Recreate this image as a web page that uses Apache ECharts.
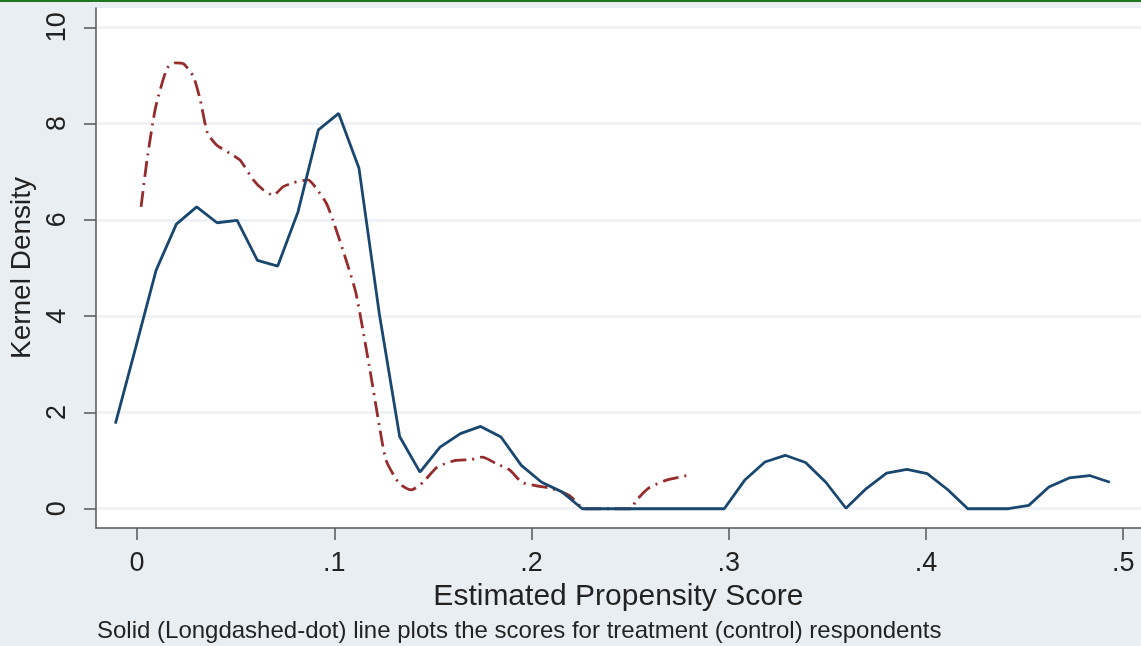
<!DOCTYPE html>
<html>
<head>
<meta charset="utf-8">
<script src="https://cdn.jsdelivr.net/npm/echarts@6/dist/echarts.min.js"></script>
<style>
html, body { margin: 0; padding: 0; background: #e9eef3; }
#chart { width: 1141px; height: 646px; }
</style>
</head>
<body>
<div id="chart"></div>
<script>
// treatment (solid) – kernel density points
var treatX = [-0.0110, -0.0007, 0.0096, 0.0199, 0.0302, 0.0405, 0.0507, 0.0610, 0.0713, 0.0816,
	0.0919, 0.1022, 0.1125, 0.1228, 0.1331, 0.1434, 0.1536, 0.1639, 0.1742, 0.1845,
	0.1948, 0.2051, 0.2154, 0.2257, 0.2360, 0.2463, 0.2565, 0.2668, 0.2771, 0.2874,
	0.2977, 0.3080, 0.3183, 0.3286, 0.3389, 0.3492, 0.3594, 0.3697, 0.3800, 0.3903,
	0.4006, 0.4109, 0.4212, 0.4315, 0.4418, 0.4521, 0.4623, 0.4726, 0.4829, 0.4932];
var treatY = [1.77, 3.35, 4.95, 5.91, 6.27, 5.94, 5.99, 5.16, 5.04, 6.17,
	7.87, 8.21, 7.07, 4.05, 1.50, 0.76, 1.28, 1.56, 1.71, 1.49,
	0.90, 0.55, 0.35, 0, 0, 0, 0, 0, 0, 0,
	0, 0.59, 0.97, 1.11, 0.96, 0.55, 0.01, 0.42, 0.74, 0.82,
	0.73, 0.40, 0, 0, 0, 0.07, 0.45, 0.64, 0.69, 0.55];

// control (longdash-dot)
var ctrlX = [0.0020, 0.0050, 0.0093, 0.0152, 0.0194, 0.0236, 0.0286, 0.0320, 0.0357, 0.0404,
	0.0471, 0.0522, 0.0589, 0.0640, 0.0690, 0.0741, 0.0791, 0.0867, 0.0909, 0.0960,
	0.0993, 0.1060, 0.1110, 0.1178, 0.1229, 0.1263, 0.1330, 0.1390, 0.1450, 0.1520,
	0.1610, 0.1690, 0.1750, 0.1820, 0.1890, 0.1950, 0.2020, 0.2100, 0.2190, 0.2270,
	0.2420, 0.2510, 0.2525, 0.2590, 0.2680, 0.2790];
var ctrlY = [6.27, 7.24, 8.32, 9.15, 9.26, 9.24, 8.97, 8.49, 7.80, 7.55,
	7.38, 7.24, 6.83, 6.62, 6.51, 6.69, 6.77, 6.83, 6.65, 6.34,
	5.99, 5.16, 4.47, 2.94, 1.70, 1.00, 0.52, 0.39, 0.55, 0.86,
	1.00, 1.02, 1.07, 0.94, 0.80, 0.55, 0.48, 0.42, 0.28, 0,
	0, 0, 0.14, 0.42, 0.59, 0.69];

var xTicks = [0, 0.1, 0.2, 0.3, 0.4, 0.5];
var yTicks = [0, 2, 4, 6, 8, 10];

function pairs(xs, ys) {
	return xs.map(function (x, i) { return [x, ys[i]]; });
}

var myChart = echarts.init(document.getElementById('chart'));
var font = 'Liberation Sans, Arial, sans-serif';

myChart.setOption({
	backgroundColor: '#e9eef3',
	animation: false,
	grid: {
		left: 92,
		top: 8,
		right: 0,
		bottom: 118,
		show: true,
		backgroundColor: '#ffffff',
		borderWidth: 0
	},
	xAxis: {
		type: 'value',
		min: -0.0209,
		max: 0.509,
		name: 'Estimated Propensity Score',
		nameLocation: 'middle',
		nameGap: 42,
		nameTextStyle: { fontFamily: font, fontSize: 30, color: '#222' },
		axisLine: { onZero: false, lineStyle: { color: '#555', width: 1.5 } },
		axisTick: { customValues: xTicks, length: 12, lineStyle: { color: '#555', width: 1.5 } },
		axisLabel: {
			customValues: xTicks,
			margin: 22,
			fontFamily: font,
			fontSize: 27,
			color: '#222',
			formatter: function (v) {
				return v === 0 ? '0' : String(+v.toFixed(1)).replace(/^0/, '');
			}
		},
		splitLine: { show: false }
	},
	yAxis: {
		type: 'value',
		min: -0.4,
		max: 10.4,
		name: 'Kernel Density',
		nameLocation: 'middle',
		nameGap: 55,
		nameTextStyle: { fontFamily: font, fontSize: 28, color: '#222' },
		axisLine: { show: true, onZero: false, lineStyle: { color: '#555', width: 1.5 } },
		axisTick: { show: true, customValues: yTicks, length: 12, lineStyle: { color: '#555', width: 1.5 } },
		axisLabel: {
			customValues: yTicks,
			rotate: 90,
			margin: 25,
			fontFamily: font,
			fontSize: 27,
			color: '#222'
		},
		splitLine: { show: true, lineStyle: { color: '#eceff3', width: 2.5 } }
	},
	series: [
		{
			name: 'treatment',
			type: 'line',
			data: pairs(treatX, treatY),
			showSymbol: false,
			lineStyle: { color: '#1a476f', width: 2.8 },
			z: 3
		},
		{
			name: 'control',
			type: 'line',
			data: pairs(ctrlX, ctrlY),
			showSymbol: false,
			smooth: 0.2,
			lineStyle: { color: '#962c2c', width: 2.8, type: [16, 6, 2, 6] },
			z: 2
		}
	],
	graphic: [
		{
			type: 'rect',
			shape: { x: 0, y: 0, width: 1141, height: 2 },
			style: { fill: '#1f7a1f' }
		},
		{
			type: 'text',
			x: 97,
			y: 631,
			style: {
				text: 'Solid (Longdashed-dot) line plots the scores for treatment (control) respondents',
				font: '24px Liberation Sans, Arial, sans-serif',
				fill: '#222',
				verticalAlign: 'middle'
			}
		}
	]
});

window.addEventListener('resize', function () {
	myChart.resize();
});
</script>
</body>
</html>
